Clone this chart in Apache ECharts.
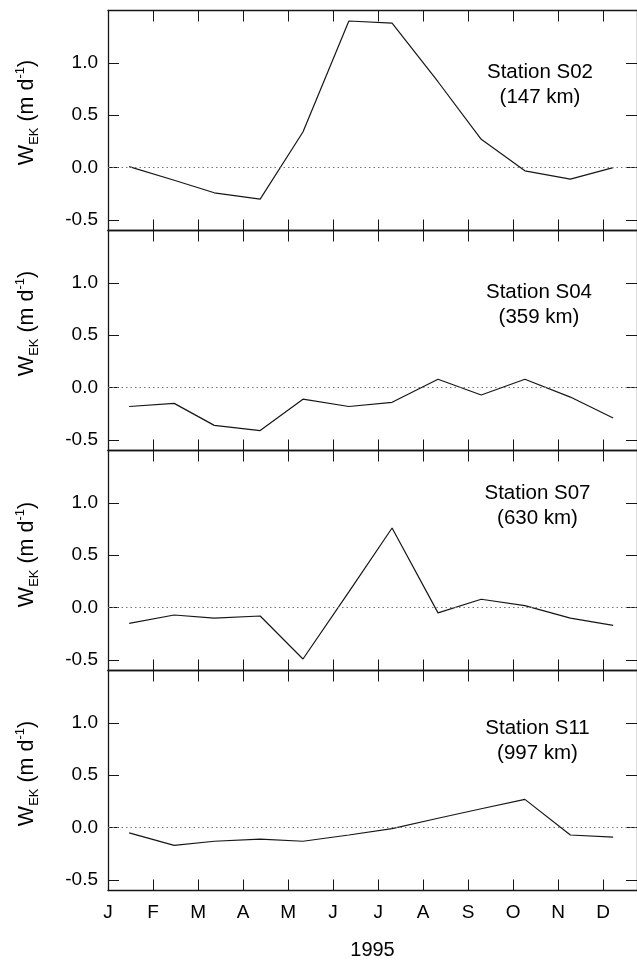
<!DOCTYPE html>
<html>
<head>
<meta charset="utf-8">
<script src="https://cdn.jsdelivr.net/npm/echarts@6/dist/echarts.min.js"></script>
<style>
  html, body { margin: 0; padding: 0; background: #fff; }
  #chart { width: 637px; height: 963px; }
</style>
</head>
<body>
<div id="chart"></div>
<script>
// ---- data ----
var monthLetters = ['J', 'F', 'M', 'A', 'M', 'J', 'J', 'A', 'S', 'O', 'N', 'D'];
var monthTicks = [0, 1, 2, 3, 4, 5, 6, 7, 8, 9, 10, 11];
var yTicks = [-0.5, 0, 0.5, 1.0];
// sampling times (fractional month, 0 = 1 January 1995)
var sampleMonths = [0.47, 1.47, 2.36, 3.38, 4.33, 5.35, 6.31, 7.33, 8.29, 9.26, 10.27, 11.22];
var stationNames = ['Station S02', 'Station S04', 'Station S07', 'Station S11'];
var stationDist = ['(147 km)', '(359 km)', '(630 km)', '(997 km)'];
var wekS02 = [0.01, -0.12, -0.24, -0.30, 0.34, 1.40, 1.38, 0.82, 0.27, -0.03, -0.11, 0.00];
var wekS04 = [-0.18, -0.15, -0.36, -0.41, -0.11, -0.18, -0.14, 0.08, -0.07, 0.08, -0.09, -0.29];
var wekS07 = [-0.15, -0.07, -0.10, -0.08, -0.49, 0.15, 0.76, -0.05, 0.08, 0.02, -0.10, -0.17];
var wekS11 = [-0.05, -0.17, -0.13, -0.11, -0.13, -0.07, -0.01, 0.09, 0.18, 0.27, -0.07, -0.09];
var yearLabel = '1995';

var allSeries = [wekS02, wekS04, wekS07, wekS11];

// ---- layout / style ----
var FONT = 'Liberation Sans, Arial, Helvetica, sans-serif';
var INK = '#161616';
var gridLeft = 108, gridTop0 = 10.5, gridH = 220, gridW = 538;
var xMin = 0, xMax = 11.75, yMin = -0.6, yMax = 1.5;
var nameShift = [8, 17, 6, 7];
var labelPos = [[540, 84.5], [539, 304.5], [537.5, 506], [537.5, 741]];

var grids = [], xAxes = [], yAxes = [], series = [], graphics = [];

function pairs(xs, ys) {
  var out = [];
  for (var i = 0; i < xs.length; i++) out.push([xs[i], ys[i]]);
  return out;
}

for (var p = 0; p < 4; p++) {
  grids.push({ left: gridLeft, top: gridTop0 + p * gridH, width: gridW, height: gridH });
  var isBottom = (p === 3);
  // bottom x axis
  xAxes.push({
    type: 'value', gridIndex: p, position: 'bottom', min: xMin, max: xMax,
    axisLine: { show: true, onZero: false, lineStyle: { color: INK, width: 1.3 } },
    axisTick: { show: true, inside: true, length: 11, customValues: monthTicks, lineStyle: { color: INK, width: 1 } },
    axisLabel: {
      show: isBottom, customValues: monthTicks, margin: 13,
      color: '#000', fontSize: 19, fontFamily: FONT,
      formatter: function (v) { return monthLetters[Math.round(v)] || ''; }
    },
    splitLine: { show: false },
    name: isBottom ? yearLabel : '', nameLocation: 'middle', nameGap: 50,
    nameTextStyle: { color: '#000', fontSize: 20, fontFamily: FONT }
  });
  // top x axis
  xAxes.push({
    type: 'value', gridIndex: p, position: 'top', min: xMin, max: xMax,
    axisLine: { show: true, onZero: false, lineStyle: { color: INK, width: 1.3 } },
    axisTick: { show: true, inside: true, length: 11, customValues: monthTicks, lineStyle: { color: INK, width: 1 } },
    axisLabel: { show: false },
    splitLine: { show: false }
  });
  // left y axis
  yAxes.push({
    type: 'value', gridIndex: p, position: 'left', min: yMin, max: yMax,
    axisLine: { show: true, onZero: false, lineStyle: { color: INK, width: 1.3 } },
    axisTick: { show: true, inside: true, length: 11, customValues: yTicks, lineStyle: { color: INK, width: 1 } },
    axisLabel: {
      show: true, customValues: yTicks, margin: 10,
      color: '#000', fontSize: 19, fontFamily: FONT,
      formatter: function (v) { return v.toFixed(1); }
    },
    splitLine: { show: false },
    name: '{b|W}{s|EK}{b| (m d}{p|-1}{b|)}',
    nameLocation: 'middle', nameRotate: 90, nameGap: 67,
    nameTextStyle: {
      color: '#000', fontFamily: FONT, padding: [0, 0, 0, nameShift[p] * 2],
      rich: {
        b: { fontSize: 21.5, lineHeight: 27, fontFamily: FONT, color: '#000' },
        s: { fontSize: 13, lineHeight: 13, verticalAlign: 'bottom', fontFamily: FONT, color: '#000' },
        p: { fontSize: 13, lineHeight: 13, verticalAlign: 'top', fontFamily: FONT, color: '#000' }
      }
    }
  });
  // right y axis
  yAxes.push({
    type: 'value', gridIndex: p, position: 'right', min: yMin, max: yMax,
    axisLine: { show: true, onZero: false, lineStyle: { color: INK, width: 1.3 } },
    axisTick: { show: true, inside: true, length: 11, customValues: yTicks, lineStyle: { color: INK, width: 1 } },
    axisLabel: { show: false },
    splitLine: { show: false }
  });

  series.push({
    type: 'line', xAxisIndex: p * 2, yAxisIndex: p * 2,
    data: pairs(sampleMonths, allSeries[p]),
    showSymbol: false, symbol: 'none', animation: false,
    lineStyle: { color: INK, width: 1.2 },
    markLine: {
      silent: true, symbol: ['none', 'none'], animation: false,
      label: { show: false },
      lineStyle: { color: '#777', type: [1.5, 3], width: 1 },
      data: [{ yAxis: 0 }]
    }
  });

  graphics.push({
    type: 'text', x: labelPos[p][0], y: labelPos[p][1],
    style: {
      text: stationNames[p] + '\n' + stationDist[p],
      fill: '#000', font: '20.5px ' + FONT,
      textAlign: 'center', textVerticalAlign: 'middle', lineHeight: 25
    }
  });
}

var chart = echarts.init(document.getElementById('chart'), null, { renderer: 'canvas' });
chart.setOption({
  animation: false,
  backgroundColor: '#fff',
  grid: grids,
  xAxis: xAxes,
  yAxis: yAxes,
  series: series,
  graphic: graphics
});
</script>
</body>
</html>
